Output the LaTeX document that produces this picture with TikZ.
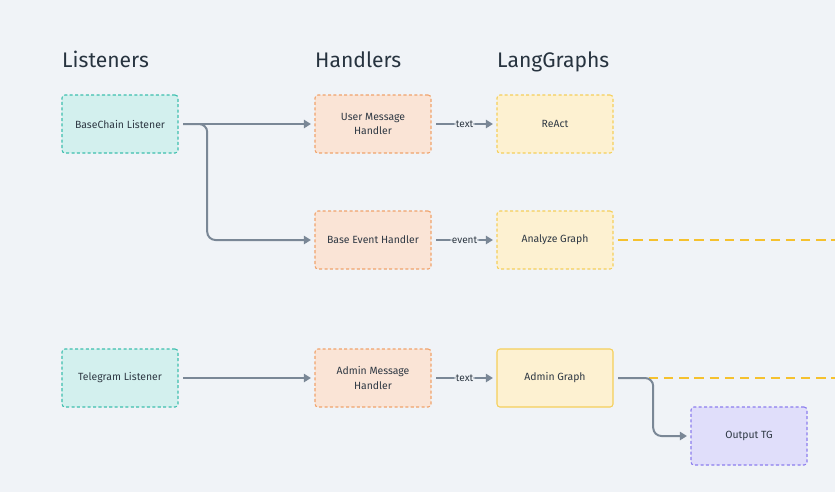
\documentclass[tikz,border=0pt]{standalone}
\usepackage{fontspec}
\setmainfont{Fira Sans}
\usetikzlibrary{arrows.meta}
\definecolor{bgcol}{HTML}{F0F3F7}
\definecolor{titlecol}{HTML}{27333F}
\definecolor{textcol}{HTML}{2E3843}
\definecolor{linecol}{HTML}{7A8796}
\definecolor{tealfill}{HTML}{D3F0EE}
\definecolor{tealdraw}{HTML}{3DBFAE}
\definecolor{orangefill}{HTML}{FAE4D6}
\definecolor{orangedraw}{HTML}{F0A36C}
\definecolor{yellowfill}{HTML}{FDF1D1}
\definecolor{yellowdraw}{HTML}{F5CF5A}
\definecolor{yellowline}{HTML}{F5C12E}
\definecolor{purplefill}{HTML}{E0DEFA}
\definecolor{purpledraw}{HTML}{8C7DEE}

\begin{document}
\begin{tikzpicture}[x=0.03cm,y=-0.03cm,
  title/.style={anchor=base west,text=titlecol,font=\fontsize{18}{21}\selectfont,inner sep=0pt},
  box/.style={rounded corners=2.5pt,minimum width=3.48cm,minimum height=1.74cm,align=center,
    text=textcol,font=\fontsize{8.9}{12.5}\selectfont,line width=0.9pt,dash pattern=on 2.6pt off 2pt},
  listener/.style={box,fill=tealfill,draw=tealdraw},
  handler/.style={box,fill=orangefill,draw=orangedraw},
  graph/.style={box,fill=yellowfill,draw=yellowdraw},
  output/.style={box,fill=purplefill,draw=purpledraw},
  flow/.style={draw=linecol,line width=1.7pt,-{Triangle[length=6pt,width=7pt]},rounded corners=7pt},
  tag/.style={fill=bgcol,text=textcol,font=\fontsize{8.6}{10}\selectfont,inner sep=1pt},
  trail/.style={draw=yellowline,line width=1.9pt,dash pattern=on 8pt off 5pt}]
\fill[bgcol] (0,0) rectangle (835,492);
\useasboundingbox (0,0) rectangle (835,492);

\node[title] (tl) at (62,67) {Listeners};
\node[title] (th) at (315,67) {Handlers};
\node[title] (tg) at (497,67) {LangGraphs};

\node[listener] (bcl) at (120,124) {BaseChain Listener};
\node[listener] (tgl) at (120,378) {Telegram Listener};
\node[handler] (umh) at (373,124) {User Message\\Handler};
\node[handler] (beh) at (373,240) {Base Event Handler};
\node[handler] (amh) at (373,378) {Admin Message\\Handler};
\node[graph] (react) at (555,124) {ReAct};
\node[graph] (ag) at (555,240) {Analyze Graph};
\node[graph,solid] (adg) at (555,378) {Admin Graph};
\node[output] (otg) at (749,436) {Output TG};

\coordinate (e1) at (835,240);
\coordinate (e2) at (835,378);
\draw[trail] ([xshift=4pt]ag.east) -- (e1);
\draw[trail] ([xshift=4pt]adg.east) -- (e2);

\draw[flow] ([xshift=4pt]bcl.east) -- ([xshift=-3pt]umh.west);
\draw[flow] ([xshift=4pt]bcl.east) -- ++(24,0) |- ([xshift=-3pt]beh.west);
\draw[flow] ([xshift=4pt]tgl.east) -- ([xshift=-3pt]amh.west);
\draw[flow] ([xshift=4pt]umh.east) -- node[tag]{text} ([xshift=-3pt]react.west);
\draw[flow] ([xshift=4pt]beh.east) -- node[tag]{event} ([xshift=-3pt]ag.west);
\draw[flow] ([xshift=4pt]amh.east) -- node[tag]{text} ([xshift=-3pt]adg.west);
\draw[flow] ([xshift=4pt]adg.east) -- ++(35,0) |- ([xshift=-3pt]otg.west);
\end{tikzpicture}
\end{document}
